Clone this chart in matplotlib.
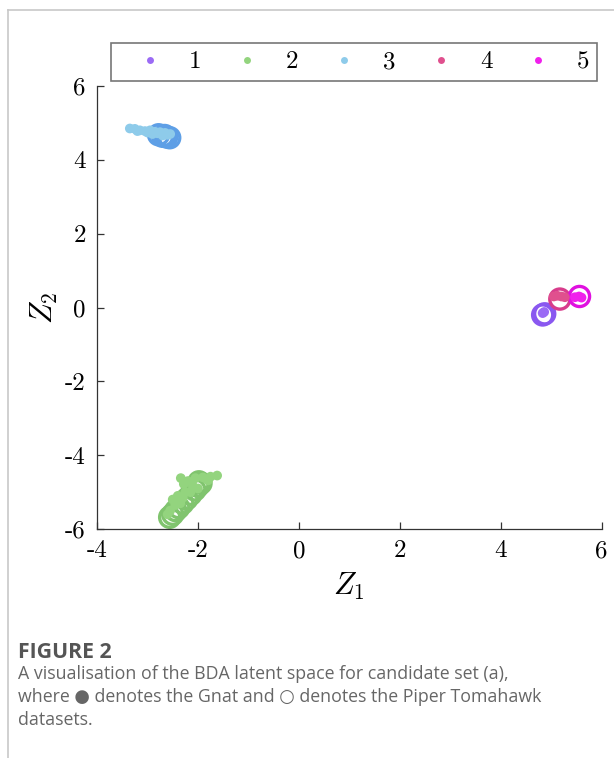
import matplotlib.pyplot as plt
import matplotlib
from matplotlib.lines import Line2D
import numpy as np

plt.rcParams['mathtext.fontset'] = 'cm'
plt.rcParams['axes.unicode_minus'] = False

# class labels and colours (Gnat dots / Piper Tomahawk circles)
classes = ['1', '2', '3', '4', '5']
dot_colors = ['#9b6bf5', '#93d47e', '#8ecbea', '#e0508e', '#f020ec']
ring_colors = ['#8a58f0', '#80c46e', '#5e9fe6', '#d83c8c', '#e010e0']

# Gnat (filled dots)
gnat_x = [
    [4.83, 4.86],
    [-2.34, -2.2, -2.05, -1.9, -1.75, -1.62, -1.8, -2.1, -2.25, -2.4, -2.5, -2.3,
     -2.15, -2.0, -2.45, -2.55, -2.6, -2.35, -2.28, -2.12],
    [-3.35, -3.25, -3.15, -3.05, -2.95, -2.85, -2.8, -2.75, -2.65, -2.6, -2.55,
     -2.9, -3.0, -3.2, -2.7],
    [5.05, 5.12, 5.2, 5.27],
    [5.47, 5.55, 5.6],
]
gnat_y = [
    [-0.15, -0.12],
    [-4.62, -4.7, -4.62, -4.6, -4.58, -4.55, -4.68, -4.85, -5.0, -5.1, -5.2, -5.15,
     -5.0, -4.9, -5.35, -5.5, -5.6, -5.3, -4.78, -4.75],
    [4.85, 4.84, 4.8, 4.78, 4.8, 4.76, 4.72, 4.75, 4.73, 4.68, 4.7, 4.7, 4.74,
     4.78, 4.66],
    [0.3, 0.32, 0.3, 0.28],
    [0.28, 0.3, 0.27],
]

# Piper Tomahawk (open circles)
piper_x = [
    [4.83, 4.87],
    [-2.56, -2.5, -2.44, -2.38, -2.3, -2.22, -2.14, -2.06, -2.0, -1.94, -1.98],
    [-2.78, -2.7, -2.62, -2.56, -2.66],
    [5.17],
    [5.56],
]
piper_y = [
    [-0.2, -0.17],
    [-5.68, -5.6, -5.5, -5.42, -5.3, -5.18, -5.06, -4.94, -4.84, -4.76, -4.72],
    [4.68, 4.64, 4.62, 4.6, 4.66],
    [0.23],
    [0.3],
]

xticks = [-4, -2, 0, 2, 4, 6]
yticks = [-6, -4, -2, 0, 2, 4, 6]

fig = plt.figure(figsize=(6.14, 7.58), dpi=100)
ax = fig.add_axes([0.158, 0.302, 0.822, 0.5845])

for i in range(len(classes)):
    ax.scatter(piper_x[i], piper_y[i], s=210, facecolors='none',
               edgecolors=ring_colors[i], linewidths=2.4, zorder=2)
    ax.scatter(gnat_x[i], gnat_y[i], s=49, color=dot_colors[i],
               edgecolors='none', zorder=3)

ax.set_xlim(-4, 6)
ax.set_ylim(-6, 6)
ax.set_xticks(xticks)
ax.set_yticks(yticks)
ax.set_xticklabels([str(t) for t in xticks], fontfamily='cmr10', fontsize=18)
ax.set_yticklabels([str(t) for t in yticks], fontfamily='cmr10', fontsize=18)
ax.tick_params(direction='in', length=5, width=0.9, color='#333333', pad=8)
for s in ['top', 'right']:
    ax.spines[s].set_visible(False)
for s in ['left', 'bottom']:
    ax.spines[s].set_color('#333333')
    ax.spines[s].set_linewidth(0.9)

ax.set_xlabel('$Z_1$', fontsize=22, labelpad=6)
ax.set_ylabel('$Z_2$', fontsize=22, labelpad=4)

handles = [Line2D([], [], marker='o', linestyle='none', markersize=5,
                  color=c, markeredgecolor='none') for c in dot_colors]
leg = fig.legend(handles, classes, ncol=5, loc='center',
                 bbox_to_anchor=(0.5765, 0.918), frameon=True, fancybox=False,
                 prop={'family': 'cmr10', 'size': 18}, handletextpad=0.33,
                 columnspacing=0.55, borderpad=0.3, handlelength=2.5)
leg.get_frame().set_edgecolor('#555555')
leg.get_frame().set_linewidth(1.2)

# page border lines
fig.add_artist(Line2D([8 / 614, 8 / 614], [0, 1 - 10 / 758],
                      transform=fig.transFigure, color='#c8c8c8', lw=1.2))
fig.add_artist(Line2D([8 / 614, 1], [1 - 10 / 758, 1 - 10 / 758],
                      transform=fig.transFigure, color='#c8c8c8', lw=1.2))

fam = ['Open Sans', 'DejaVu Sans']
fig.text(18 / 614, 1 - 652 / 758, 'FIGURE 2', fontsize=15.3, fontweight='bold',
         color='#555555', family=fam, va='center')
caption = ['A visualisation of the BDA latent space for candidate set (a),',
           'where \u25cf denotes the Gnat and \u25cb denotes the Piper Tomahawk',
           'datasets.']
for k, line in enumerate(caption):
    fig.text(18 / 614, 1 - (674 + 23 * k) / 758, line, fontsize=12.8,
             color='#666666', family=fam, va='center')

fig.savefig('out.png', dpi=100)
